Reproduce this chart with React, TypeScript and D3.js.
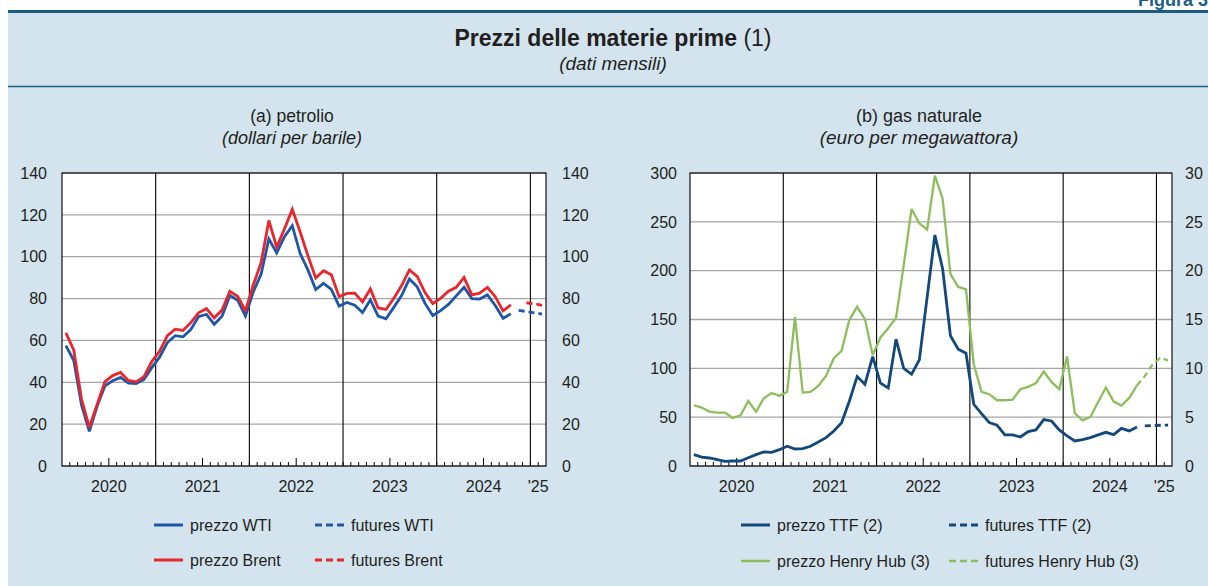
import React from "react";
import * as d3 from "d3";

// ---------- DATA (monthly, index 0 = Jan 2020) ----------
const yearLabels = ["2020", "2021", "2022", "2023", "2024", "'25"];
const oilTicks = [0, 20, 40, 60, 80, 100, 120, 140];
const gasTicksLeft = [0, 50, 100, 150, 200, 250, 300];
const gasTicksRight = [0, 5, 10, 15, 20, 25, 30];

const wti = [
  57.5, 50.5, 29.2, 16.6, 28.5, 38.3, 40.7, 42.3, 39.6, 39.4, 41.4, 47.0,
  52.0, 59.0, 62.3, 61.7, 65.2, 71.4, 72.5, 67.7, 71.6, 81.5, 79.2, 71.7,
  83.2, 91.6, 108.5, 101.8, 109.6, 114.8, 101.6, 93.7, 84.3, 87.3, 84.4, 76.4,
  78.1, 76.8, 73.3, 79.4, 71.6, 70.3, 75.8, 81.4, 89.4, 85.6, 77.7, 71.9,
  74.2, 77.2, 81.3, 85.4, 80.0, 79.8, 81.8, 76.7, 70.6, 72.7,
];
const brent = [
  63.6, 55.5, 32.0, 18.5, 29.4, 40.3, 43.2, 44.7, 40.9, 40.2, 42.7, 49.9,
  54.8, 62.3, 65.4, 64.8, 68.5, 73.2, 75.2, 70.8, 74.5, 83.5, 81.1, 74.2,
  86.5, 97.1, 117.3, 104.6, 113.3, 122.7, 111.9, 100.5, 89.8, 93.3, 91.4, 80.9,
  82.5, 82.6, 78.4, 84.6, 75.5, 74.8, 80.1, 86.2, 93.7, 90.6, 82.9, 77.6,
  80.1, 83.5, 85.4, 90.1, 81.8, 82.6, 85.3, 80.9, 74.1, 77.0,
];
const wtiFuturesStart = 58;
const wtiFutures = [74.4, 73.8, 73.2, 72.6];
const brentFuturesStart = 59;
const brentFutures = [78.0, 77.5, 76.8];

const ttf = [
  11.6, 9.2, 8.2, 6.5, 4.8, 5.1, 5.1, 8.5, 11.6, 14.4, 14.0, 16.7,
  20.2, 17.4, 17.8, 20.2, 24.6, 29.0, 35.9, 44.4, 66.6, 91.6, 83.7, 112.0,
  84.8, 80.0, 129.9, 99.8, 94.0, 108.7, 172.6, 236.5, 201.6, 133.3, 119.6, 115.5,
  63.2, 53.7, 44.4, 41.7, 31.8, 31.8, 29.7, 35.2, 36.9, 47.5, 46.1, 36.9,
  30.8, 25.6, 27.0, 29.0, 31.8, 34.5, 32.1, 38.6, 35.9, 40.0,
];
const ttfFuturesStart = 58;
const ttfFutures = [41.0, 41.4, 41.7, 41.8];

const henryHub = [
  6.22, 5.98, 5.57, 5.47, 5.47, 4.92, 5.19, 6.66, 5.57, 6.94, 7.48, 7.18,
  7.59, 15.28, 7.52, 7.59, 8.2, 9.23, 11.04, 11.79, 14.97, 16.3, 15.04, 11.38,
  13.16, 14.11, 15.17, 20.6, 26.32, 24.85, 24.2, 29.73, 27.34, 19.65, 18.35, 18.08,
  10.42, 7.59, 7.35, 6.73, 6.73, 6.8, 7.86, 8.1, 8.48, 9.67, 8.61, 7.86,
  11.21, 5.4, 4.68, 5.02, 6.56, 8.03, 6.6, 6.19, 6.97, 8.27,
];
const hhFuturesStart = 57;
const hhFutures = [8.27, 9.2, 10.4, 11.1, 10.8];

// ---------- STYLE ----------
const W = 1208;
const H = 586;
const BG = "#d3e4ee";
const DARK = "#1d5d83";
const TXT = "#231f20";
const FONT = "'Liberation Sans', Arial, Helvetica, sans-serif";
const NMONTHS = 62;

const C_WTI = "#1f57a8";
const C_BRENT = "#e8262d";
const C_TTF = "#12497a";
const C_HH = "#8ebd5b";

type Series = { values: number[]; start: number; color: string; width: number; dashed: boolean; axis: "l" | "r" };

function Panel(props: {
  left: number; right: number; top: number; bottom: number;
  yLeft: d3.ScaleLinear<number, number>; yRight: d3.ScaleLinear<number, number>;
  ticksLeft: number[]; ticksRight: number[];
  leftLabelX: number; rightLabelX: number;
  series: Series[];
}) {
  const { left, right, top, bottom, yLeft, yRight, ticksLeft, ticksRight, series } = props;
  const x = d3.scaleLinear().domain([0, NMONTHS]).range([left, right]);
  const months = d3.range(1, NMONTHS);
  const yearLines = [12, 24, 36, 48, 60];
  const labelPos = [6, 18, 30, 42, 54, 61];
  return (
    <g>
      <rect x={left} y={top} width={right - left} height={bottom - top} fill="#fff" />
      {ticksLeft.map((t) => (
        <line key={"g" + t} x1={left} x2={right} y1={yLeft(t)} y2={yLeft(t)} stroke="#a6a6a6" strokeWidth={1.3} />
      ))}
      {yearLines.map((m) => (
        <line key={"y" + m} x1={x(m)} x2={x(m)} y1={top} y2={bottom} stroke="#000" strokeWidth={1.1} />
      ))}
      {months.map((m) => (
        <line key={"t" + m} x1={x(m)} x2={x(m)} y1={bottom} y2={bottom - (m % 12 === 6 ? 8 : 4)} stroke="#000" strokeWidth={1} />
      ))}
      {series.map((s, i) => {
        const yS = s.axis === "l" ? yLeft : yRight;
        const gen = d3.line<number>().x((_, k) => x(s.start + k + 0.5)).y((v) => yS(v));
        return (
          <path key={"s" + i} d={gen(s.values) || ""} fill="none" stroke={s.color} strokeWidth={s.width}
            strokeDasharray={s.dashed ? "6,4" : undefined} strokeLinejoin="miter" strokeMiterlimit={3} />
        );
      })}
      <rect x={left} y={top} width={right - left} height={bottom - top} fill="none" stroke="#111" strokeWidth={1.2} />
      {ticksLeft.map((t) => (
        <text key={"l" + t} x={props.leftLabelX} y={yLeft(t)} dy="0.36em" textAnchor="end" fontSize={16} fill={TXT}>{t}</text>
      ))}
      {ticksRight.map((t) => (
        <text key={"r" + t} x={props.rightLabelX} y={yRight(t)} dy="0.36em" textAnchor="start" fontSize={16} fill={TXT}>{t}</text>
      ))}
      {yearLabels.map((lab, i) => (
        <text key={"x" + i} x={x(labelPos[i])} y={bottom + 26} textAnchor="middle" fontSize={16} fill={TXT}>{lab}</text>
      ))}
    </g>
  );
}

function LegendItem(p: { x: number; y: number; color: string; dashed: boolean; label: string; width?: number }) {
  return (
    <g>
      <line x1={p.x} x2={p.x + 29} y1={p.y} y2={p.y} stroke={p.color} strokeWidth={p.width || 3}
        strokeDasharray={p.dashed ? "7,4" : undefined} />
      <text x={p.x + 36} y={p.y + 5.5} fontSize={16} fill={TXT}>{p.label}</text>
    </g>
  );
}

export default function App() {
  const top = 173;
  const bottom = 466;
  const yOil = d3.scaleLinear().domain([0, 140]).range([bottom, top]);
  const yGasL = d3.scaleLinear().domain([0, 300]).range([bottom, top]);
  const yGasR = d3.scaleLinear().domain([0, 30]).range([bottom, top]);

  const oilSeries: Series[] = [
    { values: wti, start: 0, color: C_WTI, width: 2.8, dashed: false, axis: "l" },
    { values: wtiFutures, start: wtiFuturesStart, color: C_WTI, width: 2.8, dashed: true, axis: "l" },
    { values: brent, start: 0, color: C_BRENT, width: 2.8, dashed: false, axis: "l" },
    { values: brentFutures, start: brentFuturesStart, color: C_BRENT, width: 2.8, dashed: true, axis: "l" },
  ];
  const gasSeries: Series[] = [
    { values: henryHub, start: 0, color: C_HH, width: 2.3, dashed: false, axis: "r" },
    { values: hhFutures, start: hhFuturesStart, color: C_HH, width: 2.3, dashed: true, axis: "r" },
    { values: ttf, start: 0, color: C_TTF, width: 2.8, dashed: false, axis: "l" },
    { values: ttfFutures, start: ttfFuturesStart, color: C_TTF, width: 2.8, dashed: true, axis: "l" },
  ];

  return (
    <svg width={W} height={H} viewBox={`0 0 ${W} ${H}`} style={{ position: "absolute", left: 0, top: 0, fontFamily: FONT }}>
      <rect x={0} y={0} width={W} height={H} fill="#fff" />
      <rect x={8} y={12} width={W - 8} height={H - 12} fill={BG} />
      <rect x={8} y={10} width={W - 8} height={3} fill={DARK} />
      <line x1={8} x2={W} y1={86.5} y2={86.5} stroke={DARK} strokeWidth={1.5} />
      <text x={1138} y={6} fontSize={18} fontWeight="bold" fill={DARK}>Figura 3</text>

      <text x={613} y={46} textAnchor="middle" fontSize={23} fill={TXT}>
        <tspan fontWeight="bold">Prezzi delle materie prime</tspan>
        <tspan> (1)</tspan>
      </text>
      <text x={613} y={70} textAnchor="middle" fontSize={19} fontStyle="italic" fill={TXT}>(dati mensili)</text>

      <text x={292} y={122} textAnchor="middle" fontSize={17.5} fill={TXT}>(a) petrolio</text>
      <text x={292} y={144} textAnchor="middle" fontSize={18} fontStyle="italic" fill={TXT}>(dollari per barile)</text>
      <text x={919} y={122} textAnchor="middle" fontSize={18} fill={TXT}>(b) gas naturale</text>
      <text x={919} y={144} textAnchor="middle" fontSize={19} fontStyle="italic" fill={TXT}>(euro per megawattora)</text>

      <Panel left={62} right={546} top={top} bottom={bottom} yLeft={yOil} yRight={yOil}
        ticksLeft={oilTicks} ticksRight={oilTicks} leftLabelX={47} rightLabelX={562} series={oilSeries} />
      <Panel left={690} right={1172} top={top} bottom={bottom} yLeft={yGasL} yRight={yGasR}
        ticksLeft={gasTicksLeft} ticksRight={gasTicksRight} leftLabelX={677} rightLabelX={1185} series={gasSeries} />

      <LegendItem x={154} y={525} color={C_WTI} dashed={false} label="prezzo WTI" />
      <LegendItem x={315} y={525} color={C_WTI} dashed={true} label="futures WTI" />
      <LegendItem x={154} y={560} color={C_BRENT} dashed={false} label="prezzo Brent" />
      <LegendItem x={315} y={560} color={C_BRENT} dashed={true} label="futures Brent" />

      <LegendItem x={741} y={525} color={C_TTF} dashed={false} label="prezzo TTF (2)" />
      <LegendItem x={949} y={525} color={C_TTF} dashed={true} label="futures TTF (2)" />
      <LegendItem x={741} y={561} color={C_HH} dashed={false} label="prezzo Henry Hub (3)" width={2.5} />
      <LegendItem x={949} y={561} color={C_HH} dashed={true} label="futures Henry Hub (3)" width={2.5} />
    </svg>
  );
}
